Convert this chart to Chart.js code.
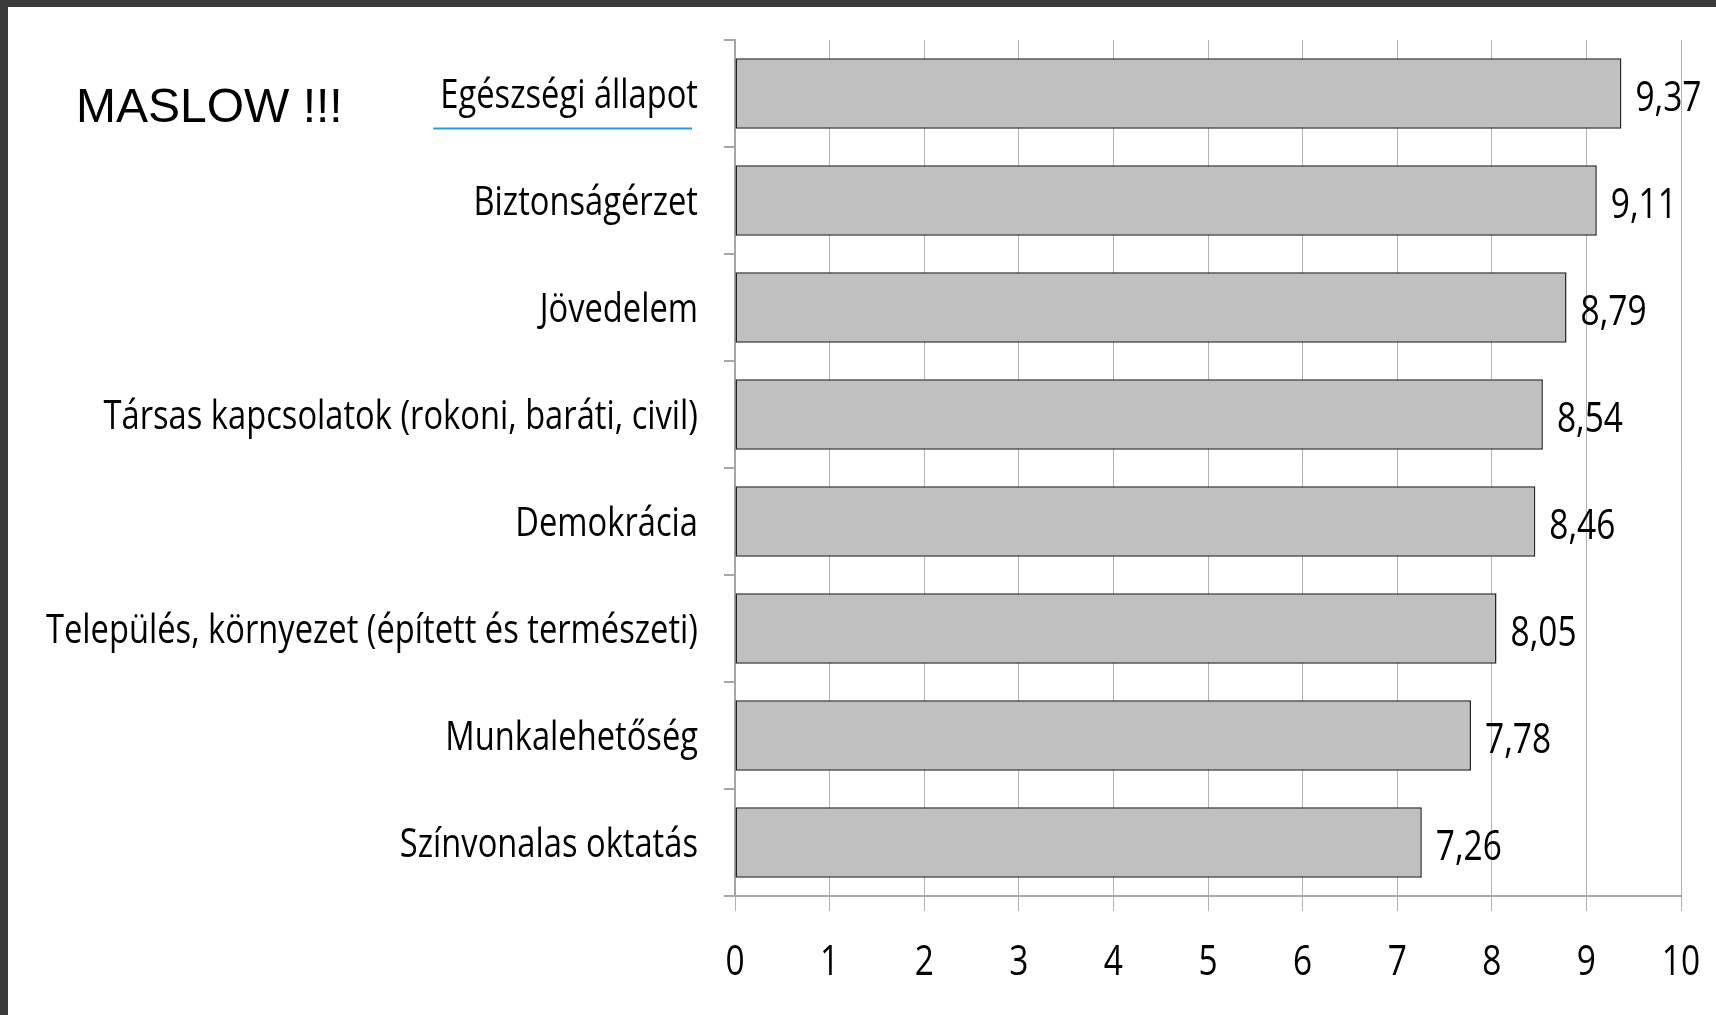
<!DOCTYPE html>
<html>
<head>
  <title>Maslow</title>
  <style>
    body {
      margin: 0;
      background-color: #ffffff;
      width: 1716px;
      height: 1015px;
      overflow: hidden;
      position: relative;
    }
    .keretFent { position: absolute; left: 0; top: 0; width: 1716px; height: 7px; background: #3b3b3b; }
    .keretBal { position: absolute; left: 0; top: 0; width: 8px; height: 1015px; background: #3b3b3b; }
    #cim {
      position: absolute;
      left: 76px;
      top: 82px;
      font-family: "Liberation Sans", Arial, sans-serif;
      font-size: 48px;
      line-height: 48px;
      color: #000;
    }
    #grafikon { position: absolute; left: 0; top: 0; }
  </style>
</head>
<body>
  <div class="keretFent"></div>
  <div class="keretBal"></div>
  <canvas id="grafikon" width="1716" height="1015"></canvas>
  <div id="cim">MASLOW !!!</div>

<script src="https://cdn.jsdelivr.net/npm/chart.js"></script>
<script>
  // adatok
  var kategoriak = [
    "Egészségi állapot",
    "Biztonságérzet",
    "Jövedelem",
    "Társas kapcsolatok (rokoni, baráti, civil)",
    "Demokrácia",
    "Település, környezet (épített és természeti)",
    "Munkalehetőség",
    "Színvonalas oktatás"
  ];
  var ertekek = [9.37, 9.11, 8.79, 8.54, 8.46, 8.05, 7.78, 7.26];
  var tengelyMin = 0;
  var tengelyMax = 10;
  var tengelyLepes = 1;

  var betu = '"Open Sans", sans-serif';
  var szuk = 0.75; // vizszintes osszenyomas (keskeny betu helyett)

  function keskenyIr(ctx, szoveg, x, y, igazitas) {
    ctx.save();
    ctx.translate(x, y);
    ctx.scale(szuk, 1);
    ctx.textAlign = igazitas;
    ctx.textBaseline = 'alphabetic';
    ctx.fillText(szoveg, 0, 0);
    ctx.restore();
  }

  // feliratok: kategoriak, tengely szamok, ertekek
  var szovegek = {
    id: 'szovegek',
    beforeInit(chart) {
      var ctx = chart.ctx;
      ctx.font = '41px ' + betu;
      // a leghosszabb felirat kb. 652 px szeles a mintan
      szuk = 652 / ctx.measureText(kategoriak[5]).width;
    },
    afterDraw(chart) {
      var ctx = chart.ctx;
      var x = chart.scales.x;
      var y = chart.scales.y;
      var bal = chart.chartArea.left;
      ctx.save();
      ctx.fillStyle = '#000';

      ctx.font = '41px ' + betu;
      kategoriak.forEach(function (k, i) {
        keskenyIr(ctx, k, bal - 37, y.getPixelForValue(i) + 14.5, 'right');
      });

      // kek alahuzas az elso felirat alatt
      var w = ctx.measureText(kategoriak[0]).width * szuk;
      var yy = y.getPixelForValue(0) + 35;
      ctx.strokeStyle = '#2a9bd4';
      ctx.lineWidth = 2;
      ctx.beginPath();
      ctx.moveTo(bal - 37 - w - 7, yy);
      ctx.lineTo(bal - 43, yy);
      ctx.stroke();

      ctx.font = '42px ' + betu;
      x.ticks.forEach(function (t) {
        keskenyIr(ctx, String(t.value), x.getPixelForValue(t.value), chart.chartArea.bottom + 79, 'center');
      });

      var meta = chart.getDatasetMeta(0);
      meta.data.forEach(function (bar, i) {
        var szoveg = ertekek[i].toFixed(2).replace('.', ',');
        keskenyIr(ctx, szoveg, bar.x + 14, bar.y + 17.5, 'left');
      });
      ctx.restore();
    }
  };

  new Chart(document.getElementById('grafikon'), {
    type: 'bar',
    data: {
      labels: kategoriak,
      datasets: [{
        data: ertekek,
        backgroundColor: '#c0c0c0',
        borderColor: '#222222',
        borderWidth: 1.5,
        borderSkipped: false,
        barPercentage: 0.66,
        categoryPercentage: 1.0
      }]
    },
    options: {
      indexAxis: 'y',
      responsive: false,
      animation: false,
      layout: { padding: { top: 40, right: 35, left: 0, bottom: 0 } },
      plugins: {
        legend: { display: false },
        tooltip: { enabled: false }
      },
      scales: {
        x: {
          min: tengelyMin,
          max: tengelyMax,
          afterFit: function (s) { s.height = 119; },
          ticks: { stepSize: tengelyLepes, display: false },
          grid: { color: '#b3b3b3', lineWidth: 1, tickLength: 15 },
          border: { color: '#a6a6a6', width: 2 }
        },
        y: {
          afterFit: function (s) { s.width = 735; },
          ticks: { display: false },
          grid: {
            offset: true,
            drawOnChartArea: false,
            color: '#a6a6a6',
            lineWidth: 2,
            tickLength: 11
          },
          border: { color: '#a6a6a6', width: 2 }
        }
      }
    },
    plugins: [szovegek]
  });
</script>
</body>
</html>
